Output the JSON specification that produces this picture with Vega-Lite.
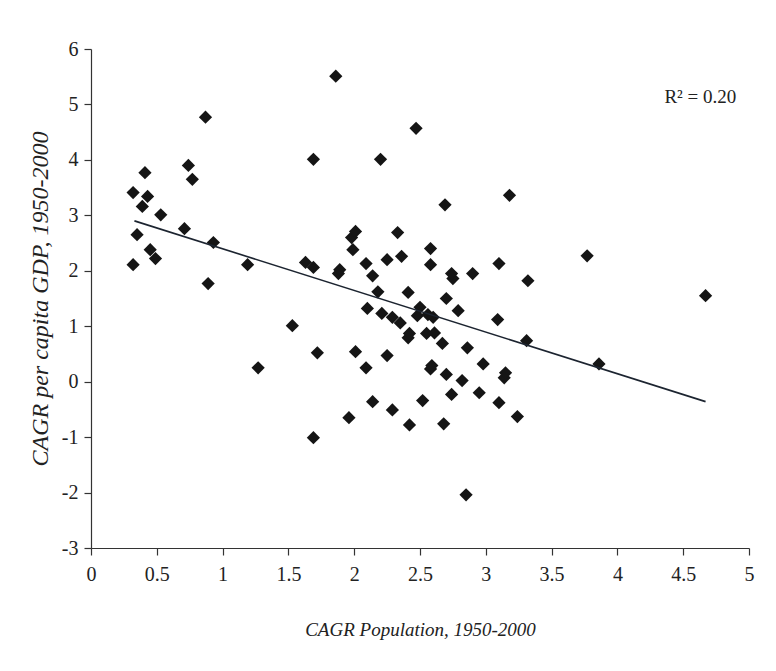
{
  "$schema": "https://vega.github.io/schema/vega-lite/v6.json",
  "width": 658,
  "height": 499,
  "autosize": {"type": "none"},
  "padding": {"left": 91, "top": 49, "right": 27, "bottom": 123},
  "background": "white",
  "config": {
    "view": {"stroke": null},
    "font": "Liberation Serif",
    "axis": {
      "grid": false,
      "domainColor": "#333333",
      "tickColor": "#333333",
      "labelColor": "#222222",
      "titleColor": "#222222",
      "labelFont": "Liberation Serif",
      "titleFont": "Liberation Serif",
      "labelFontSize": 20,
      "titleFontSize": 19,
      "titleFontStyle": "italic",
      "titleFontWeight": "normal",
      "tickSize": 7,
      "domainWidth": 1.2,
      "tickWidth": 1.2,
      "labelExpr": "'' + datum.value"
    }
  },
  "datasets": {
    "countries": [
      {"pop": 0.32, "gdp": 3.41}, {"pop": 0.35, "gdp": 2.65}, {"pop": 0.32, "gdp": 2.11},
      {"pop": 0.39, "gdp": 3.16}, {"pop": 0.41, "gdp": 3.77}, {"pop": 0.43, "gdp": 3.34},
      {"pop": 0.45, "gdp": 2.38}, {"pop": 0.49, "gdp": 2.22}, {"pop": 0.53, "gdp": 3.01},
      {"pop": 0.71, "gdp": 2.76}, {"pop": 0.74, "gdp": 3.90}, {"pop": 0.77, "gdp": 3.65},
      {"pop": 0.87, "gdp": 4.77}, {"pop": 0.89, "gdp": 1.77}, {"pop": 0.93, "gdp": 2.51},
      {"pop": 1.19, "gdp": 2.11}, {"pop": 1.27, "gdp": 0.25}, {"pop": 1.53, "gdp": 1.01},
      {"pop": 1.63, "gdp": 2.15}, {"pop": 1.69, "gdp": 4.01}, {"pop": 1.69, "gdp": 2.06},
      {"pop": 1.72, "gdp": 0.52}, {"pop": 1.69, "gdp": -1.01}, {"pop": 1.86, "gdp": 5.51},
      {"pop": 1.88, "gdp": 1.95}, {"pop": 1.89, "gdp": 2.02}, {"pop": 1.96, "gdp": -0.65},
      {"pop": 1.99, "gdp": 2.38}, {"pop": 1.98, "gdp": 2.60}, {"pop": 2.01, "gdp": 2.71},
      {"pop": 2.01, "gdp": 0.54}, {"pop": 2.10, "gdp": 1.32}, {"pop": 2.09, "gdp": 0.25},
      {"pop": 2.09, "gdp": 2.13}, {"pop": 2.14, "gdp": 1.91}, {"pop": 2.14, "gdp": -0.36},
      {"pop": 2.18, "gdp": 1.62}, {"pop": 2.20, "gdp": 4.01}, {"pop": 2.21, "gdp": 1.23},
      {"pop": 2.25, "gdp": 2.20}, {"pop": 2.25, "gdp": 0.47}, {"pop": 2.29, "gdp": -0.51},
      {"pop": 2.29, "gdp": 1.16}, {"pop": 2.35, "gdp": 1.06}, {"pop": 2.33, "gdp": 2.69},
      {"pop": 2.36, "gdp": 2.26}, {"pop": 2.42, "gdp": -0.78}, {"pop": 2.41, "gdp": 1.61},
      {"pop": 2.41, "gdp": 0.79}, {"pop": 2.47, "gdp": 4.57}, {"pop": 2.42, "gdp": 0.87},
      {"pop": 2.50, "gdp": 1.34}, {"pop": 2.52, "gdp": -0.34}, {"pop": 2.48, "gdp": 1.19},
      {"pop": 2.56, "gdp": 1.21}, {"pop": 2.58, "gdp": 2.40}, {"pop": 2.58, "gdp": 2.11},
      {"pop": 2.58, "gdp": 0.23}, {"pop": 2.60, "gdp": 1.16}, {"pop": 2.55, "gdp": 0.87},
      {"pop": 2.61, "gdp": 0.88}, {"pop": 2.59, "gdp": 0.29}, {"pop": 2.70, "gdp": 1.50},
      {"pop": 2.67, "gdp": 0.69}, {"pop": 2.68, "gdp": -0.76}, {"pop": 2.69, "gdp": 3.19},
      {"pop": 2.70, "gdp": 0.13}, {"pop": 2.74, "gdp": -0.23}, {"pop": 2.75, "gdp": 1.86},
      {"pop": 2.74, "gdp": 1.95}, {"pop": 2.79, "gdp": 1.28}, {"pop": 2.82, "gdp": 0.02},
      {"pop": 2.85, "gdp": -2.04}, {"pop": 2.86, "gdp": 0.61}, {"pop": 2.90, "gdp": 1.95},
      {"pop": 2.95, "gdp": -0.20}, {"pop": 2.98, "gdp": 0.32}, {"pop": 3.09, "gdp": 1.12},
      {"pop": 3.10, "gdp": 2.13}, {"pop": 3.10, "gdp": -0.38}, {"pop": 3.14, "gdp": 0.07},
      {"pop": 3.15, "gdp": 0.16}, {"pop": 3.18, "gdp": 3.36}, {"pop": 3.24, "gdp": -0.63},
      {"pop": 3.31, "gdp": 0.74}, {"pop": 3.32, "gdp": 1.82}, {"pop": 3.77, "gdp": 2.27},
      {"pop": 3.86, "gdp": 0.32}, {"pop": 4.67, "gdp": 1.55}
    ],
    "trend": [
      {"pop": 0.33, "gdp": 2.90},
      {"pop": 4.67, "gdp": -0.36}
    ]
  },
  "layer": [
    {
      "data": {"name": "countries"},
      "mark": {"type": "point", "shape": "diamond", "filled": true, "size": 175, "color": "#151515", "opacity": 1},
      "encoding": {
        "x": {
          "field": "pop", "type": "quantitative",
          "scale": {"domain": [0, 5], "nice": false, "zero": false},
          "axis": {
            "title": "CAGR Population, 1950-2000",
            "values": [0, 0.5, 1, 1.5, 2, 2.5, 3, 3.5, 4, 4.5, 5],
            "labelPadding": 9,
            "titlePadding": 36,
            "labelFlush": false
          }
        },
        "y": {
          "field": "gdp", "type": "quantitative",
          "scale": {"domain": [-3, 6], "nice": false, "zero": false},
          "axis": {
            "title": "CAGR per capita GDP, 1950-2000",
            "values": [-3, -2, -1, 0, 1, 2, 3, 4, 5, 6],
            "labelPadding": 6,
            "titlePadding": 9,
            "titleFontSize": 24,
            "labelFlush": false
          }
        }
      }
    },
    {
      "data": {"name": "trend"},
      "mark": {"type": "line", "color": "#1c2430", "strokeWidth": 1.6},
      "encoding": {
        "x": {"field": "pop", "type": "quantitative"},
        "y": {"field": "gdp", "type": "quantitative"}
      }
    },
    {
      "data": {"values": [{"label": "R² = 0.20"}]},
      "mark": {"type": "text", "font": "Liberation Serif", "fontSize": 19, "color": "#222222", "align": "center", "baseline": "middle"},
      "encoding": {
        "x": {"datum": 4.63, "type": "quantitative"},
        "y": {"datum": 5.14, "type": "quantitative"},
        "text": {"field": "label"}
      }
    }
  ]
}
